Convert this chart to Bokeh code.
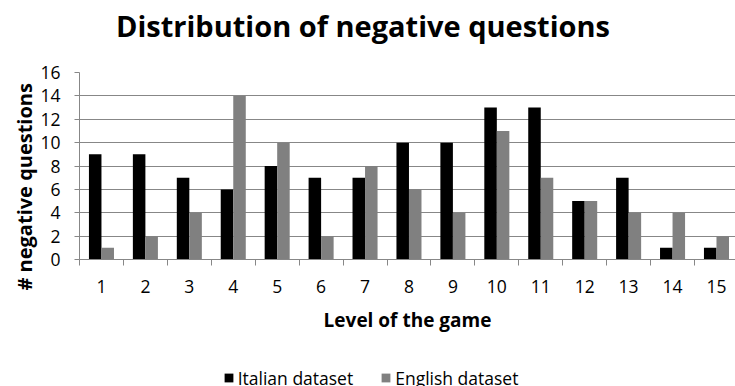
from bokeh.plotting import figure
from bokeh.layouts import column
from bokeh.models import ColumnDataSource, FixedTicker, Label, Legend, LegendItem, Range1d, Title
from bokeh.transform import dodge
from bokeh.embed import file_html
from bokeh.resources import INLINE

# Game levels and number of negative questions per dataset
levels = list(range(1, 16))
italian = [9, 9, 7, 6, 8, 7, 7, 10, 10, 13, 13, 5, 7, 1, 1]
english = [1, 2, 4, 14, 10, 2, 8, 6, 4, 11, 7, 5, 4, 4, 2]
y_ticks = [0, 2, 4, 6, 8, 10, 12, 14, 16]
tick_labels = [str(v) for v in levels]
series_names = ["Italian dataset", "English dataset"]
series_colors = ["black", "#808080"]

GRID = "#878787"
FONT = "Open Sans"
HEAD_H = 48
LEG_H = 42


def strip(height):
    """A bare full-width figure used for the heading and the legend row."""
    f = figure(
        width=735, height=height,
        output_backend="svg", toolbar_location=None,
        x_range=Range1d(0, 1), y_range=Range1d(0, 1),
        x_axis_type=None, y_axis_type=None,
        min_border_left=0, min_border_right=0, min_border_top=0, min_border_bottom=0,
    )
    f.frame_align = False
    f.grid.visible = False
    f.outline_line_color = None
    f.border_fill_color = "white"
    f.background_fill_color = "white"
    return f


src = ColumnDataSource(dict(level=levels, italian=italian, english=english))

# heading
head = strip(HEAD_H)
head.add_layout(Label(x=362.5, y=23.3, x_units="screen", y_units="screen",
                      text="Distribution of negative questions",
                      text_font=FONT, text_font_style="bold", text_font_size="29px",
                      text_align="center", text_baseline="alphabetic", text_color="black"))

# main chart
p = figure(
    width=735, height=386 - HEAD_H - LEG_H,
    output_backend="svg", toolbar_location=None,
    x_range=Range1d(0.5, 15.433), y_range=Range1d(0, 16),
    min_border_left=79, min_border_right=0,
    min_border_top=72 - HEAD_H, min_border_bottom=85,
)
p.frame_align = False
p.outline_line_color = None
p.background_fill_color = "white"
p.border_fill_color = "white"

bar_w = 0.285
p.vbar(x=dodge("level", -bar_w / 2, range=p.x_range), top="italian", width=bar_w,
       source=src, fill_color=series_colors[0], line_color=None)
p.vbar(x=dodge("level", bar_w / 2, range=p.x_range), top="english", width=bar_w,
       source=src, fill_color=series_colors[1], line_color=None)

# grid
p.xgrid.visible = False
p.ygrid.grid_line_color = GRID
p.ygrid.grid_line_width = 1

# x axis: labels at level centres, tick marks between levels
xa = p.xaxis[0]
xa.ticker = FixedTicker(ticks=levels, minor_ticks=[v - 0.5 for v in levels] + [levels[-1] + 0.5])
xa.major_label_overrides = {v: s for v, s in zip(levels, tick_labels)}
xa.axis_line_color = GRID
xa.major_tick_out = 0
xa.major_tick_in = 0
xa.minor_tick_out = 6
xa.minor_tick_in = 0
xa.minor_tick_line_color = GRID
xa.major_label_text_font = FONT
xa.major_label_text_font_size = "17.5px"
xa.major_label_text_color = "black"
xa.major_label_standoff = 14
xa.axis_label = "Level of the game"
xa.axis_label_text_font = FONT
xa.axis_label_text_font_style = "bold"
xa.axis_label_text_font_size = "19px"
xa.axis_label_text_color = "black"
xa.axis_label_standoff = 11

# y axis
ya = p.yaxis[0]
ya.ticker = FixedTicker(ticks=y_ticks, minor_ticks=[])
ya.axis_line_color = GRID
ya.major_tick_out = 5
ya.major_tick_in = 0
ya.major_tick_line_color = GRID
ya.minor_tick_out = 0
ya.minor_tick_in = 0
ya.major_label_text_font = FONT
ya.major_label_text_font_size = "17.5px"
ya.major_label_text_color = "black"
ya.major_label_standoff = 14

# vertical axis title
p.add_layout(Title(text="# negative questions", align="left", offset=-31,
                   text_font=FONT, text_font_style="bold", text_font_size="20px",
                   text_color="black", standoff=0), "left")

# legend row underneath the chart
lg = strip(LEG_H)
items = []
for name, col, color in zip(series_names, ["italian", "english"], series_colors):
    r = lg.vbar(x="level", top=col, width=bar_w, source=src,
                fill_color=color, line_color=None, visible=False)
    items.append(LegendItem(label=name, renderers=[r]))

legend = Legend(
    items=items,
    orientation="horizontal", location=(222.7, -3.5),
    glyph_width=11, glyph_height=11, label_standoff=4, spacing=27,
    padding=0, margin=0, border_line_color=None, background_fill_alpha=0,
    inactive_fill_alpha=0,
    label_text_font=FONT, label_text_font_size="17.5px", label_text_color="black",
)
lg.add_layout(legend, "center")

page = column(head, p, lg, spacing=0)

open("out.html", "w").write(file_html(page, INLINE))
